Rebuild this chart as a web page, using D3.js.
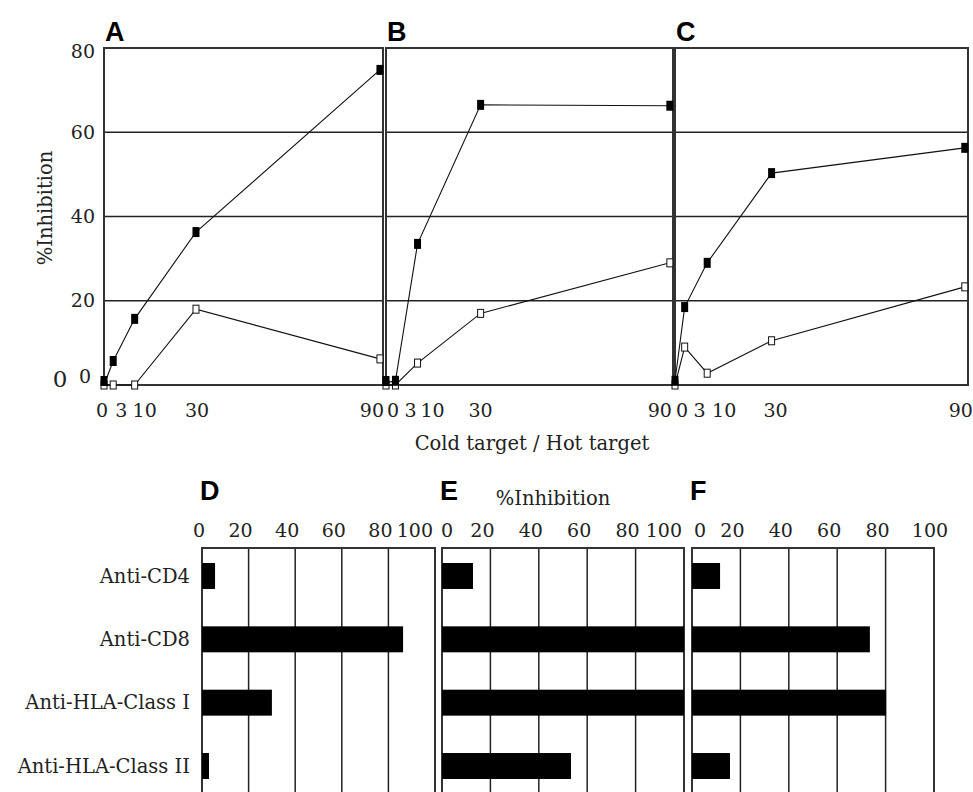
<!doctype html>
<html>
<head>
<meta charset="utf-8">
<style>
  body { margin: 0; background: #fff; }
  svg { display: block; }
  .num { font-family: "DejaVu Serif", serif; font-size: 19px; fill: #222; }
  .word { font-family: "DejaVu Serif", serif; font-size: 19.5px; fill: #222; }
  .letter { font-family: "Liberation Sans", Arial, sans-serif; font-weight: bold; font-size: 27px; fill: #000; }
</style>
</head>
<body>
<svg id="chart" width="973" height="792"></svg>
<script src="https://d3js.org/d3.v7.min.js"></script>
<script>
// ---- data ----
const ratios = [0, 3, 10, 30, 90];           // cold target / hot target
const yTicks = [0, 20, 40, 60, 80];

const closedA = [0, 5.7, 15.7, 36.3, 74.8];
const openA   = [0, 0, 0, 18, 6.2];
const closedB = [0.5, 1, 33.5, 66.5, 66.3];
const openB   = [0, 0, 5.2, 17, 29];
const closedC = [1, 18.5, 29, 50.3, 56.3];
const openC   = [0, 9, 2.8, 10.5, 23.3];

const antibodies = ["Anti-CD4", "Anti-CD8", "Anti-HLA-Class I", "Anti-HLA-Class II"];
const barsD = [5.6, 86.3, 30, 3];
const barsE = [12.8, 100, 100, 53.3];
const barsF = [11.6, 73.5, 80.2, 15.7];
const xTicksBar = [0, 20, 40, 60, 80, 100];

// ---- layout ----
const svg = d3.select("#chart");
const ink = "#222";

const plotTop = 48, plotBottom = 385;
const y = d3.scaleLinear().domain([0, 80]).range([plotBottom, plotTop]);

// tick label nudges keep "0 3 10" readable, as in the original
const linePanels = [
  { id: "A", x0: 104, x1: 383, closed: closedA, open: openA, dx: [-2, 8, 10, 1, -8] },
  { id: "B", x0: 386, x1: 673, closed: closedB, open: openB, dx: [7, 15, 15, 0, -10] },
  { id: "C", x0: 675, x1: 968, closed: closedC, open: openC, dx: [7, 15, 17, 4, -4] }
];

linePanels.forEach(p => {
  const x = d3.scaleLinear().domain([0, 91]).range([p.x0, p.x1]);
  const g = svg.append("g");

  // gridlines
  g.selectAll("line.grid")
    .data([20, 40, 60])
    .enter().append("line")
    .attr("x1", p.x0).attr("x2", p.x1)
    .attr("y1", d => y(d)).attr("y2", d => y(d))
    .attr("stroke", ink).attr("stroke-width", 1.5);

  // frame
  g.append("rect")
    .attr("x", p.x0).attr("y", plotTop)
    .attr("width", p.x1 - p.x0).attr("height", plotBottom - plotTop)
    .attr("fill", "none").attr("stroke", "#333").attr("stroke-width", 2);

  const line = d3.line().x((d, i) => x(ratios[i])).y(d => y(d));

  [p.open, p.closed].forEach(series => {
    g.append("path")
      .attr("d", line(series))
      .attr("fill", "none").attr("stroke", "#111").attr("stroke-width", 1.1);
  });

  // open markers
  g.selectAll("rect.open")
    .data(p.open)
    .enter().append("rect")
    .attr("x", (d, i) => x(ratios[i]) - 3)
    .attr("y", d => y(d) - 4)
    .attr("width", 6).attr("height", 8)
    .attr("fill", "#fff").attr("stroke", "#111").attr("stroke-width", 1);

  // closed markers
  g.selectAll("rect.closed")
    .data(p.closed)
    .enter().append("rect")
    .attr("x", (d, i) => x(ratios[i]) - 3.5)
    .attr("y", d => Math.min(y(d) - 5, plotBottom - 9))
    .attr("width", 7).attr("height", 10)
    .attr("fill", "#000");

  // x tick labels
  g.selectAll("text.xt")
    .data(ratios)
    .enter().append("text")
    .attr("class", "num")
    .attr("x", (d, i) => x(d) + p.dx[i])
    .attr("y", 417)
    .attr("text-anchor", "middle")
    .text(d => d);

  g.append("text")
    .attr("class", "letter")
    .attr("x", p.x0 + 1).attr("y", 41)
    .text(p.id);
});

// y tick labels (panel A only)
svg.selectAll("text.yt")
  .data(yTicks)
  .enter().append("text")
  .attr("class", "num")
  .attr("x", d => d === 0 ? 91 : 95)
  .attr("y", d => y(d))
  .attr("dy", d => d === 0 ? "-0.1em" : d === 80 ? "0.5em" : "0.35em")
  .attr("text-anchor", "end")
  .text(d => d);

svg.append("text")
  .attr("class", "num")
  .attr("x", 60).attr("y", 387)
  .attr("text-anchor", "middle")
  .style("font-size", "23px")
  .text("0");

svg.append("text")
  .attr("class", "word")
  .attr("transform", "translate(52,208) rotate(-90)")
  .attr("text-anchor", "middle")
  .text("%Inhibition");

svg.append("text")
  .attr("class", "word")
  .attr("x", 532).attr("y", 450)
  .attr("text-anchor", "middle")
  .text("Cold target / Hot target");

// ---- bar panels ----
const barTop = 548, barBottom = 805;
const band = d3.scaleBand()
  .domain(antibodies)
  .range([544, 798])
  .paddingInner(0.59)
  .paddingOuter(0.3);

const barPanels = [
  { id: "D", x0: 202, x1: 435, values: barsD, zeroDx: -3 },
  { id: "E", x0: 442, x1: 684, values: barsE, zeroDx: 5 },
  { id: "F", x0: 692, x1: 934, values: barsF, zeroDx: 8 }
];

barPanels.forEach((p, k) => {
  const x = d3.scaleLinear().domain([0, 100]).range([p.x0, p.x1]);
  const g = svg.append("g");

  g.selectAll("line.grid")
    .data([20, 40, 60, 80])
    .enter().append("line")
    .attr("x1", d => x(d)).attr("x2", d => x(d))
    .attr("y1", barTop).attr("y2", barBottom)
    .attr("stroke", ink).attr("stroke-width", 1.5);

  g.append("rect")
    .attr("x", p.x0).attr("y", barTop)
    .attr("width", p.x1 - p.x0).attr("height", barBottom - barTop)
    .attr("fill", "none").attr("stroke", "#333").attr("stroke-width", 2);

  g.selectAll("rect.bar")
    .data(p.values)
    .enter().append("rect")
    .attr("x", x(0))
    .attr("y", (d, i) => band(antibodies[i]))
    .attr("width", d => x(d) - x(0))
    .attr("height", band.bandwidth())
    .attr("fill", "#000");

  const last = k === barPanels.length - 1;
  g.selectAll("text.xt")
    .data(xTicksBar)
    .enter().append("text")
    .attr("class", "num")
    .attr("x", d => d === 0 ? x(d) + p.zeroDx
                  : d === 100 ? (last ? x(d) - 4 : x(d) - 2)
                  : x(d) - 8)
    .attr("y", 537)
    .attr("text-anchor", d => (d === 100 && !last) ? "end" : "middle")
    .text(d => d);

  g.append("text")
    .attr("class", "letter")
    .attr("x", p.x0 - 2).attr("y", 500)
    .text(p.id);
});

svg.selectAll("text.cat")
  .data(antibodies)
  .enter().append("text")
  .attr("class", "word")
  .attr("x", 190)
  .attr("y", d => band(d) + band.bandwidth() / 2)
  .attr("dy", "0.35em")
  .attr("text-anchor", "end")
  .text(d => d);

svg.append("text")
  .attr("class", "word")
  .attr("x", 553).attr("y", 505)
  .attr("text-anchor", "middle")
  .text("%Inhibition");
</script>
</body>
</html>
